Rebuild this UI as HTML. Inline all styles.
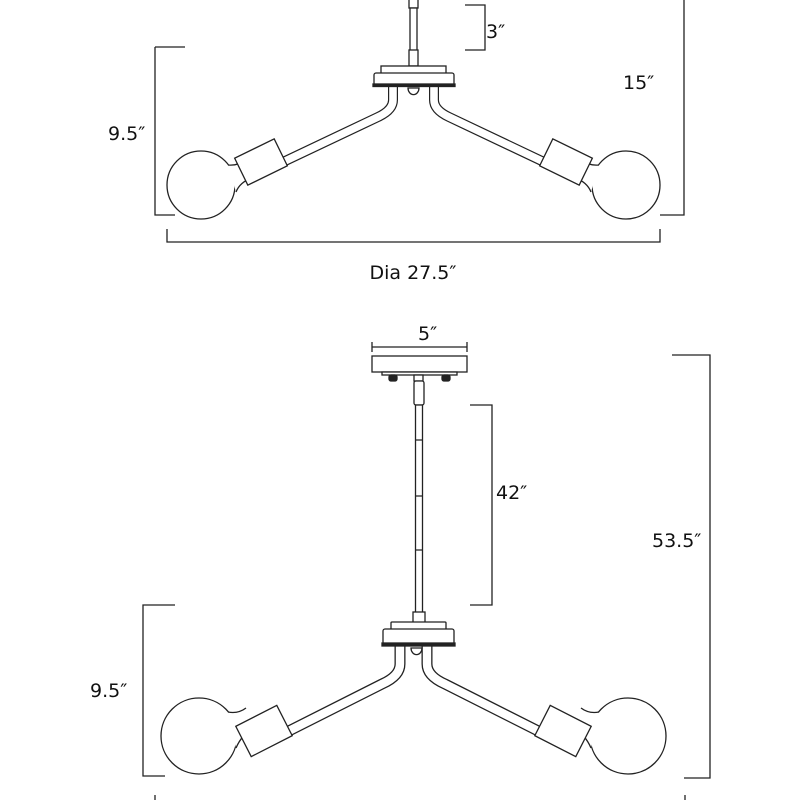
<!DOCTYPE html>
<html><head><style>html,body{margin:0;padding:0;background:#fff;}svg{display:block}
text{font-family:"DejaVu Sans","Liberation Sans",sans-serif;fill:#111}</style></head>
<body>
<svg width="800" height="800" viewBox="0 0 800 800" xmlns="http://www.w3.org/2000/svg">
<defs>
<g id="armT">
<path d="M393,87 L393,100 Q393,110 378,117 L262,172" fill="none" stroke="#222" stroke-width="10"/>
<path d="M393,87 L393,100 Q393,110 378,117 L262,172" fill="none" stroke="#fff" stroke-width="7.6"/>
<circle cx="201" cy="185" r="34" fill="#fff" stroke="#222" stroke-width="1.3"/>
<path d="M228,165 Q238,166 245,160 L252,178 Q240,182 236,192 Z" fill="#fff" stroke="none"/>
<path d="M228,165 Q238,166 245,160 M252,178 Q240,182 236,192" fill="none" stroke="#222" stroke-width="1.3"/>
<rect x="-22" y="-15" width="44" height="30" transform="translate(261,162) rotate(-26)" fill="#fff" stroke="#222" stroke-width="1.3"/>
</g>
<g id="armB">
<path d="M400,646 L400,664 Q400,676 382,684 L265,743" fill="none" stroke="#222" stroke-width="11"/>
<path d="M400,646 L400,664 Q400,676 382,684 L265,743" fill="none" stroke="#fff" stroke-width="8.4"/>
<circle cx="199" cy="736" r="38" fill="#fff" stroke="#222" stroke-width="1.3"/>
<path d="M228,712 Q238,714 246,708 L254,728 Q242,734 236,748 Z" fill="#fff" stroke="none"/>
<path d="M228,712 Q238,714 246,708 M254,728 Q242,734 236,748" fill="none" stroke="#222" stroke-width="1.3"/>
<rect x="-23" y="-17" width="46" height="34" transform="translate(264,731) rotate(-27)" fill="#fff" stroke="#222" stroke-width="1.3"/>
</g>
</defs>
<g stroke="#222" stroke-width="1.3" fill="#fff">
<rect x="409" y="-2" width="9" height="10"/>
<rect x="410" y="8" width="7" height="50"/>
<rect x="409" y="50" width="9" height="16"/>
<use href="#armT"/>
<use href="#armT" transform="translate(827,0) scale(-1,1)"/>
<rect x="381" y="66" width="65" height="8"/>
<rect x="374" y="73" width="80" height="12" rx="2"/>
<rect x="373" y="84" width="82" height="2.5" fill="#222"/>
<path d="M408,88 a5,6 0 1 0 11,0 Z"/>
<path d="M465,5 H485 V50 H465 M155,47 H185 M155,47 V215 H175 M660,215 H684 V0 M167,229 V242 H660 V229" fill="none"/>
<path d="M372,342 V352 M372,347 H467 M467,342 V352" fill="none"/>
<rect x="372" y="356" width="95" height="16"/>
<rect x="382" y="372" width="75" height="3"/>
<rect x="389" y="375" width="8" height="6" rx="2" fill="#222"/>
<rect x="442" y="375" width="8" height="6" rx="2" fill="#222"/>
<rect x="414" y="375" width="9" height="6"/>
<rect x="414" y="381" width="10" height="24" rx="2"/>
<rect x="415.5" y="405" width="7" height="218"/>
<path d="M415.5,440 H422.5 M415.5,496 H422.5 M415.5,550 H422.5" fill="none"/>
<rect x="413" y="612" width="12" height="12"/>
<use href="#armB"/>
<use href="#armB" transform="translate(827,0) scale(-1,1)"/>
<rect x="391" y="622" width="55" height="8" rx="1"/>
<rect x="383" y="629" width="71" height="15" rx="2"/>
<rect x="382" y="643" width="73" height="3" fill="#222"/>
<path d="M411,648 a5,6 0 1 0 11,0 Z"/>
<path d="M470,405 H492 V605 H470 M672,355 H710 V778 H684 M175,605 H143 V776 H165 M155,795 V800 M685,795 V800" fill="none"/>
</g>
<g font-size="19">
<text x="486" y="38">3″</text>
<text x="623" y="89">15″</text>
<text x="108" y="140">9.5″</text>
<text x="413" y="279" text-anchor="middle">Dia  27.5″</text>
<text x="418" y="340">5″</text>
<text x="496" y="499">42″</text>
<text x="652" y="547">53.5″</text>
<text x="90" y="697">9.5″</text>
</g>
</svg>
</body></html>
